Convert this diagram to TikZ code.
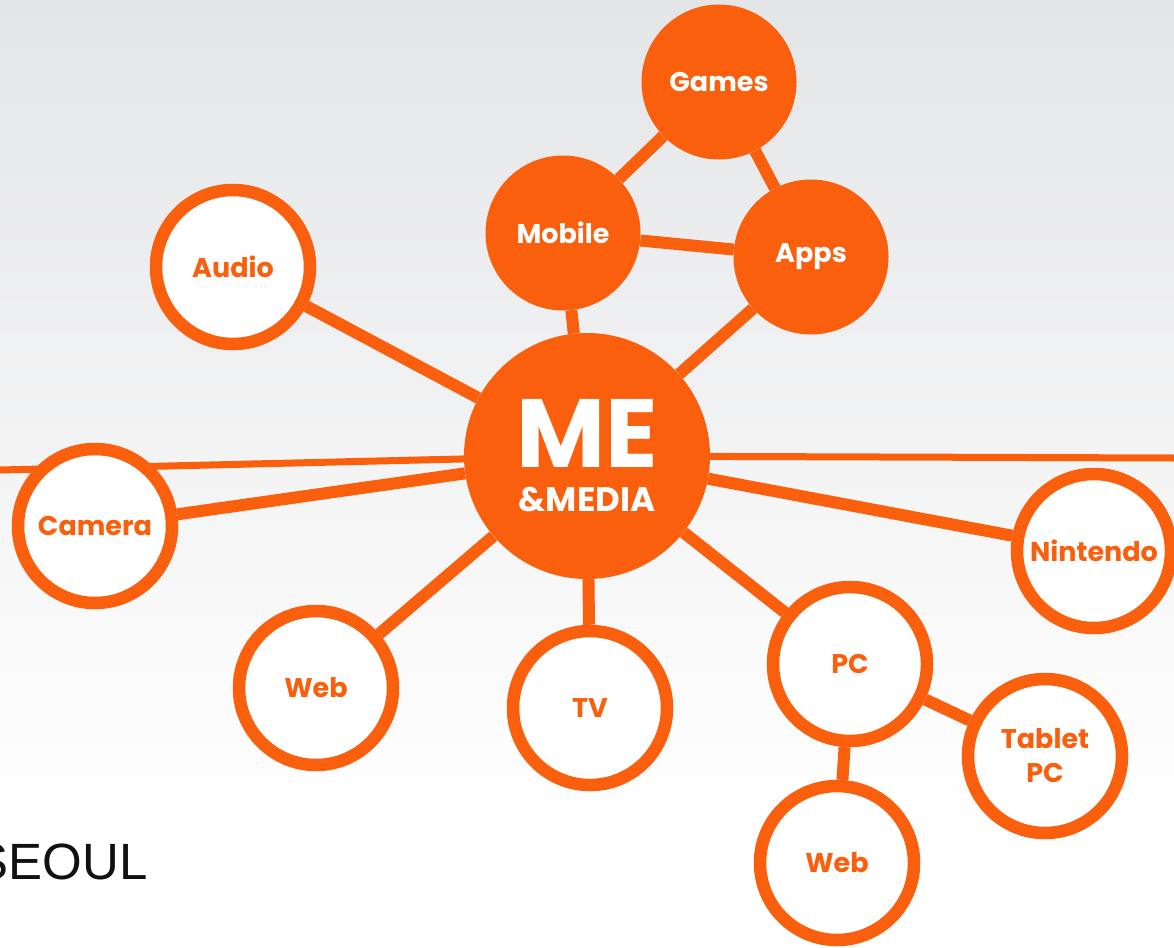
\documentclass[tikz,border=0pt]{standalone}
\usepackage{fontspec}
\setmainfont{Poppins}
\newfontfamily\plainsans{Liberation Sans}
\usepackage{tikz}
\usetikzlibrary{backgrounds}
\definecolor{cOrange}{HTML}{F95F0C}
\definecolor{cSky}{HTML}{E4E5E7}
\definecolor{cInk}{HTML}{111111}
\tikzset{
  hub/.style={circle, fill=cOrange, inner sep=0pt, minimum size=246pt, text=white, align=center,
    font=\fontsize{34}{44}\selectfont\bfseries},
  hot/.style={circle, fill=cOrange, inner sep=0pt, minimum size=155pt, text=white,
    font=\fontsize{27}{34}\selectfont\bfseries},
  topic/.style={circle, draw=cOrange, line width=12.5pt, fill=white, inner sep=0pt, minimum size=154pt,
    text=cOrange, align=center, font=\fontsize{27}{34}\selectfont\bfseries},
  link/.style={draw=cOrange, line width=12pt},
  longlink/.style={draw=cOrange, line width=7pt},
}

\begin{document}
\begin{tikzpicture}[x=1pt, y=-1pt]
\useasboundingbox (0,0) rectangle (1174,947);
% centre
\node[hub] (me) at (587,456) {{\fontsize{97}{97}\selectfont ME}\\\&MEDIA};
% filled cluster on top
\node[hot] (games) at (719,82) {Games};
\node[hot] (mobile) at (563,233) {Mobile};
\node[hot] (apps) at (811,257) {Apps};
% ring nodes
\node[topic] (audio) at (233,267) {Audio};
\node[topic] (camera) at (95,526) {Camera};
\node[topic] (webl) at (316,688) {Web};
\node[topic] (tv) at (590,708) {TV};
\node[topic] (pc) at (850,664) {PC};
\node[topic] (tablet) at (1045,756) {Tablet\\PC};
\node[topic] (webr) at (837,863) {Web};
\node[topic] (nintendo) at (1094,551) {Nintendo};
% long lines leaving the page
\coordinate (leftend) at (0,470);
\coordinate (rightend) at (1174,458);
\node[font=\plainsans\fontsize{51}{51}\selectfont, text=cInk, anchor=base east, inner sep=0pt] (city) at (148,879) {SEOUL};
\begin{scope}[on background layer]
\shade[top color=cSky, bottom color=white] (0,0) rectangle (1174,820);
\fill[white] (0,820) rectangle (1174,947);
\draw[longlink] (leftend) -- (me);
\draw[longlink] (me) -- (rightend);
\foreach \n in {audio, camera, webl, tv, pc, nintendo, mobile, apps}
  \draw[link] (me) -- (\n);
\draw[link] (mobile) -- (games);
\draw[link] (games) -- (apps);
\draw[link] (mobile) -- (apps);
\draw[link] (pc) -- (tablet);
\draw[link] (pc) -- (webr);
\end{scope}
\end{tikzpicture}
\end{document}
